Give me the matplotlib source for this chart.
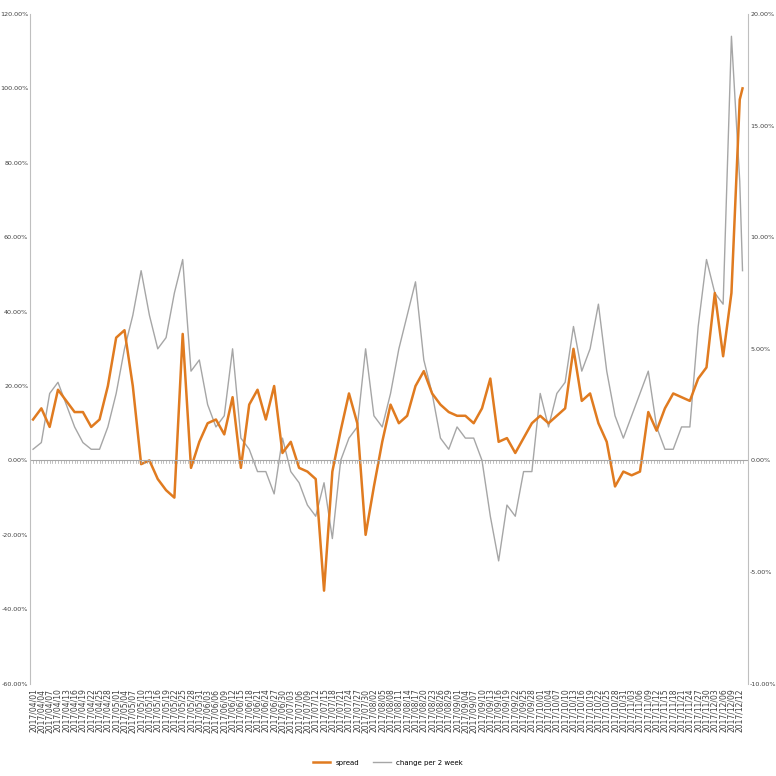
import matplotlib
matplotlib.use("Agg")
import matplotlib.pyplot as plt
import numpy as np
import pandas as pd
from matplotlib.ticker import FuncFormatter

dates = pd.date_range("2017-04-01", "2017-12-12", freq="3D")
spread = [11,14,9,19,16,13,13,9,11,20,33,35,20,-1,0,-5,-8,-10,34,-2,5,10,11,7,17,-2,15,19,11,20,
          2,5,-2,-3,-5,-35,-3,8,18,10,-20,-7,5,15,10,12,20,24,18,15,13,12,12,10,14,22,5,6,2,6,
          10,12,10,12,14,30,16,18,10,5,-7,-3,-4,-3,13,8,14,18,17,16,22,25,45,28,45,97]
change = [0.5,0.8,3,3.5,2.5,1.5,0.8,0.5,0.5,1.5,3,5,6.5,8.5,6.5,5,5.5,7.5,9,4,4.5,2.5,1.5,2,5,1,
          0.5,-0.5,-0.5,-1.5,1,-0.5,-1,-2,-2.5,-1,-3.5,0,1,1.5,5,2,1.5,3,5,6.5,8,4.5,3,1,0.5,1.5,
          1,1,0,-2.5,-4.5,-2,-2.5,-0.5,-0.5,3,1.5,3,3.5,6,4,5,7,4,2,1,2,3,4,1.5,0.5,0.5,1.5,1.5,
          6,9,7.5,7,19,12.5]
end_date = pd.Timestamp("2017-12-13")
spread_end, change_end = 100, 8.5

d_all = list(dates) + [end_date]
s_all = np.array(spread + [spread_end]) / 100
c_all = np.array(change + [change_end]) / 100

fig = plt.figure(figsize=(7.76, 7.76), dpi=100)
ax = fig.add_axes([0.039, 0.119, 0.925, 0.863])
ax2 = ax.twinx()
ax2.plot(d_all, c_all, color="#a6a6a6", lw=1.0, label="change per 2 week")
ax.plot(d_all, s_all, color="#e07b20", lw=1.8, label="spread")
ax.set_zorder(ax2.get_zorder() + 1)
ax.patch.set_visible(False)

ax.set_ylim(-0.6, 1.2)
ax.set_yticks(np.arange(-0.6, 1.21, 0.2))
ax2.set_ylim(-0.1, 0.2)
ax2.set_yticks(np.arange(-0.1, 0.201, 0.05))
fmt = FuncFormatter(lambda v, p: f"{v*100:.2f}%")
ax.yaxis.set_major_formatter(fmt)
ax2.yaxis.set_major_formatter(fmt)
for a in (ax, ax2):
    a.tick_params(axis="y", labelsize=4.6, length=0, pad=1.5, colors="#404040")
    for s in a.spines.values():
        s.set_visible(False)
ax.spines["left"].set_visible(True)
ax.spines["left"].set_color("#bfbfbf")
ax2.spines["right"].set_visible(True)
ax2.spines["right"].set_color("#bfbfbf")

ax.set_xlim(pd.Timestamp("2017-03-31"), pd.Timestamp("2017-12-15"))
ax.axhline(0, color="#a6a6a6", lw=0.8)
for d in pd.date_range("2017-04-01", "2017-12-13", freq="D"):
    ax.plot([d, d], [0, -0.006], color="#a6a6a6", lw=0.5)
ax.set_xticks(dates)
ax.set_xticklabels([d.strftime("%Y/%m/%d") for d in dates], rotation=90, fontsize=5.5, color="#404040")
ax.tick_params(axis="x", length=0)

h1, l1 = ax.get_legend_handles_labels()
h2, l2 = ax2.get_legend_handles_labels()
fig.legend(h1 + h2, l1 + l2, loc="lower center", bbox_to_anchor=(0.5, 0.005), ncol=2,
           frameon=False, fontsize=5, handlelength=2.5)
fig.savefig("out.png", dpi=100)
